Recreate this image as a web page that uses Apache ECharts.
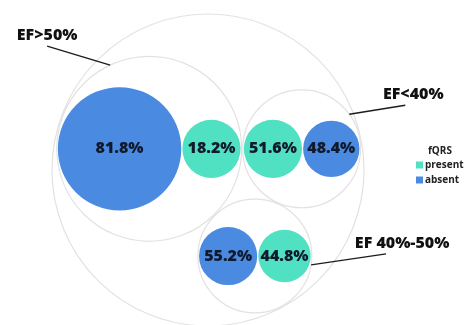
<!DOCTYPE html>
<html>
<head>
<meta charset="utf-8">
<script src="https://cdn.jsdelivr.net/npm/echarts@6/dist/echarts.min.js"></script>
<style>
  html, body { margin: 0; padding: 0; background: #ffffff; }
  #chart { width: 464px; height: 325px; }
</style>
</head>
<body>
<div id="chart"></div>
<script>
// Ejection-fraction groups and fQRS shares within each group
const groupNames = ['EF>50%', 'EF<40%', 'EF 40%-50%'];
const groupTotals = [88, 31, 29];
const presentPct = [18.2, 51.6, 44.8];
const absentPct = [81.8, 48.4, 55.2];
const seriesNames = ['present', 'absent'];

// Styling / layout settings
const COLORS = { present: '#50e0c2', absent: '#4a8ae0' };
const RING = '#e4e1e1';
const INK = '#101a2c';
const FONT = '800 16px "Open Sans"';
const PAD = 0.15;           // gap between packed circles (layout units)
const CENTER = [208, 170];  // pixel centre of the outermost circle
const OUTER_R = 156;        // pixel radius of the outermost circle
// leader lines: angle on the group ring, line vector, text offset from line end
const callouts = [
  { angle: -115, vec: [-63, -19], text: [0, -11] },
  { angle: -36,  vec: [56, -9],   text: [8, -11] },
  { angle: 9,    vec: [75, -11],  text: [16, -10] }
];

// ---- circle packing (two leaves per group, three groups) ----
function packPair(nodes) {
  nodes[0].x = 0; nodes[0].y = 0;
  nodes[1].x = nodes[0].r + nodes[1].r + PAD; nodes[1].y = 0;
  const left = -nodes[0].r, right = nodes[1].x + nodes[1].r;
  const mid = (left + right) / 2;
  nodes.forEach(n => { n.x -= mid; });
  return (right - left) / 2 + PAD;
}

function enclose2(a, b) {
  const dx = b.x - a.x, dy = b.y - a.y, d = Math.hypot(dx, dy);
  const r = (d + a.r + b.r) / 2;
  const t = d ? (r - a.r) / d : 0;
  return { x: a.x + dx * t, y: a.y + dy * t, r: r };
}

function enclose3(a, b, c) {
  const x1 = a.x, y1 = a.y, r1 = a.r,
        x2 = b.x, y2 = b.y, r2 = b.r,
        x3 = c.x, y3 = c.y, r3 = c.r,
        a2 = x1 - x2, a3 = x1 - x3,
        b2 = y1 - y2, b3 = y1 - y3,
        c2 = r2 - r1, c3 = r3 - r1,
        d1 = x1 * x1 + y1 * y1 - r1 * r1,
        d2 = d1 - x2 * x2 - y2 * y2 + r2 * r2,
        d3 = d1 - x3 * x3 - y3 * y3 + r3 * r3,
        ab = a3 * b2 - a2 * b3,
        xa = (b2 * d3 - b3 * d2) / (ab * 2) - x1,
        xb = (b3 * c2 - b2 * c3) / ab,
        ya = (a3 * d2 - a2 * d3) / (ab * 2) - y1,
        yb = (a2 * c3 - a3 * c2) / ab,
        A = xb * xb + yb * yb - 1,
        B = 2 * (r1 + xa * xb + ya * yb),
        C = xa * xa + ya * ya - r1 * r1,
        r = -(Math.abs(A) > 1e-6 ? (B + Math.sqrt(B * B - 4 * A * C)) / (2 * A) : C / B);
  return { x: x1 + xa + xb * r, y: y1 + ya + yb * r, r: r };
}

function contains(o, c) {
  return Math.hypot(c.x - o.x, c.y - o.y) + c.r <= o.r + 1e-9;
}

// build groups with leaves sized by case counts
const groups = groupNames.map((name, i) => {
  const leaves = [
    { kind: 'present', pct: presentPct[i] },
    { kind: 'absent', pct: absentPct[i] }
  ].map(l => Object.assign(l, { count: l.pct / 100 * groupTotals[i], r: 0 }));
  leaves.forEach(l => { l.r = Math.sqrt(l.count); });
  leaves.sort((p, q) => q.count - p.count);
  const g = { name: name, idx: i, total: groupTotals[i], leaves: leaves };
  g.r = packPair(leaves);
  return g;
});
const order = groups.slice().sort((p, q) => q.total - p.total);
const [gA, gB, gC] = order;
gA.x = 0; gA.y = 0;
const dAB = gA.r + gB.r + PAD;
gB.x = dAB; gB.y = 0;
const dAC = gA.r + gC.r + PAD, dBC = gB.r + gC.r + PAD;
const cosA = (dAB * dAB + dAC * dAC - dBC * dBC) / (2 * dAB * dAC);
gC.x = dAC * cosA; gC.y = dAC * Math.sqrt(1 - cosA * cosA);

let outer = enclose2(gA, gB);
if (!contains(outer, gC)) outer = enclose3(gA, gB, gC);
outer.r += PAD;

const scale = OUTER_R / outer.r;
const px = v => CENTER[0] + (v - outer.x) * scale;
const py = v => CENTER[1] + (v - outer.y) * scale;

// pixel geometry
groups.forEach(g => {
  g.px = px(g.x); g.py = py(g.y); g.pr = g.r * scale;
  g.leaves.forEach(l => {
    l.px = px(g.x + l.x); l.py = py(g.y + l.y); l.pr = l.r * scale;
  });
});

const chart = echarts.init(document.getElementById('chart'), null, { renderer: 'canvas' });

function leafSeries(kind) {
  return {
    type: 'custom',
    name: kind,
    coordinateSystem: 'none',
    itemStyle: { color: COLORS[kind] },
    data: groups.map(g => g.idx),
    renderItem: function (params, api) {
      const g = groups[api.value(0)];
      const leaf = g.leaves.find(l => l.kind === kind);
      return {
        type: 'group',
        children: [
          { type: 'circle', shape: { cx: leaf.px, cy: leaf.py, r: leaf.pr },
            style: { fill: COLORS[kind], stroke: null } },
          { type: 'text', style: {
              text: leaf.pct.toFixed(1) + '%', x: leaf.px, y: leaf.py,
              align: 'center', verticalAlign: 'middle',
              font: FONT, fill: INK } }
        ]
      };
    }
  };
}

chart.setOption({
  animation: false,
  backgroundColor: '#ffffff',
  title: {
    text: 'fQRS', left: 428, top: 146, padding: 0,
    textStyle: { fontFamily: 'Open Sans', fontWeight: 'bold', fontSize: 10, color: '#222' }
  },
  legend: {
    data: seriesNames,
    orient: 'vertical', left: 416, top: 160, padding: 0,
    icon: 'rect', itemWidth: 7, itemHeight: 7, itemGap: 5,
    textStyle: { fontFamily: 'Open Sans', fontWeight: 'bold', fontSize: 10, color: '#222', padding: [0, 0, 0, -3] }
  },
  series: [
    {
      type: 'custom',
      name: 'groups',
      coordinateSystem: 'none',
      silent: true,
      data: [-1].concat(groups.map(g => g.idx)),
      renderItem: function (params, api) {
        const i = api.value(0);
        if (i < 0) {
          return { type: 'circle', shape: { cx: CENTER[0], cy: CENTER[1], r: OUTER_R },
                   style: { fill: null, stroke: RING, lineWidth: 1.2 } };
        }
        const g = groups[i];
        const c = callouts[i];
        const ang = c.angle * Math.PI / 180;
        const sx = g.px + g.pr * Math.cos(ang), sy = g.py + g.pr * Math.sin(ang);
        const ex = sx + c.vec[0], ey = sy + c.vec[1];
        return {
          type: 'group',
          children: [
            { type: 'circle', shape: { cx: g.px, cy: g.py, r: g.pr },
              style: { fill: null, stroke: RING, lineWidth: 1.2 } },
            { type: 'line', shape: { x1: sx, y1: sy, x2: ex, y2: ey },
              style: { stroke: '#1c1c1c', lineWidth: 1.3 } },
            { type: 'text', style: {
                text: g.name, x: ex + c.text[0], y: ey + c.text[1],
                align: 'center', verticalAlign: 'middle',
                font: FONT, fill: '#111' } }
          ]
        };
      }
    },
    leafSeries('present'),
    leafSeries('absent')
  ]
});
</script>
</body>
</html>
